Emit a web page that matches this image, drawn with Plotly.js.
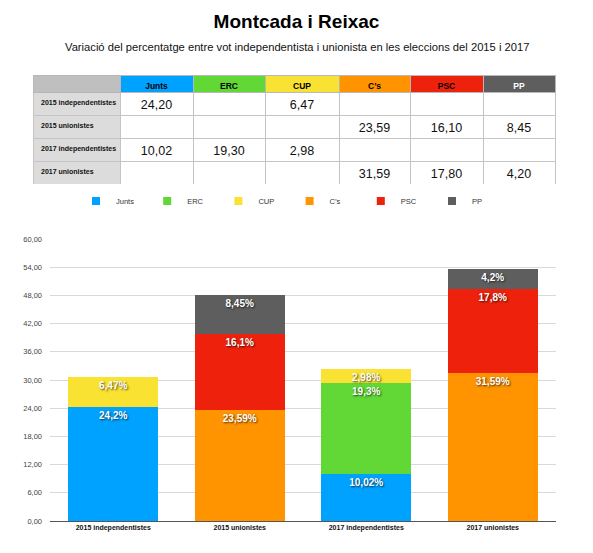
<!DOCTYPE html>
<html>
<head>
<meta charset="utf-8">
<script src="https://cdn.plot.ly/plotly-3.0.1.min.js"></script>
<style>html,body{margin:0;padding:0;background:#fff;}#chart{width:593px;height:553px;}</style>
</head>
<body>
<div id="chart"></div>
<script>
// ---- data ----
var categories = ['2015 independentistes', '2015 unionistes', '2017 independentistes', '2017 unionistes'];
var parties = ['Junts', 'ERC', 'CUP', "C's", 'PSC', 'PP'];
var junts = [24.20, null, 10.02, null];
var erc   = [null, null, 19.30, null];
var cup   = [6.47, null, 2.98, null];
var cs    = [null, 23.59, null, 31.59];
var psc   = [null, 16.10, null, 17.80];
var pp    = [null, 8.45, null, 4.20];
var yTicks = [0, 6, 12, 18, 24, 30, 36, 42, 48, 54, 60];
var partyColors = ['#00a2ff', '#61d836', '#fae232', '#ff9300', '#ee220c', '#5e5e5e'];

var series = [junts, erc, cup, cs, psc, pp];
var FONT = 'Liberation Sans, Arial, Helvetica, sans-serif';

function fmtTable(v) { return v == null ? '' : v.toFixed(2).replace('.', ','); }
function fmtBar(v) { return v == null ? '' : String(v).replace('.', ',') + '%'; }
function nb(s) { return s.replace(/ /g, '\u00a0'); }

var traces = [];

// table
var headerVals = [''].concat(parties.map(function (p) { return p.replace("'", '\u2019'); }));
var cellCols = [categories.map(nb)];
series.forEach(function (s) { cellCols.push(s.map(fmtTable)); });
traces.push({
  type: 'table',
  domain: { x: [33 / 593, 555 / 593], y: [1 - 184 / 553, 1 - 75 / 553] },
  columnwidth: [87, 73, 72, 74, 71, 73, 72],
  header: {
    values: headerVals,
    height: 17,
    align: 'center',
    fill: { color: ['#bfbfbf'].concat(partyColors) },
    line: { color: '#b8b8b8', width: 1 },
    font: { family: FONT, size: 8.5, weight: 'bold', color: ['#000', '#000', '#000', '#000', '#000', '#000', '#fff'] }
  },
  cells: {
    values: cellCols,
    height: 23,
    align: ['left', 'center', 'center', 'center', 'center', 'center', 'center'],
    fill: { color: ['#dcdcdc', '#fff', '#fff', '#fff', '#fff', '#fff', '#fff'] },
    line: { color: '#c4c4c4', width: 1 },
    font: {
      family: FONT,
      size: [7, 12.5, 12.5, 12.5, 12.5, 12.5, 12.5],
      weight: ['bold', 'normal', 'normal', 'normal', 'normal', 'normal', 'normal'],
      color: '#111'
    }
  }
});

// bars
series.forEach(function (s, i) {
  traces.push({
    type: 'bar',
    name: parties[i],
    x: categories,
    y: s,
    showlegend: false,
    marker: { color: partyColors[i], line: { width: 0 } },
    text: s.map(fmtBar),
    textposition: 'inside',
    insidetextanchor: 'end',
    textangle: 0,
    constraintext: 'none',
    textfont: { family: FONT, size: 10, color: '#fff', weight: 'bold', shadow: '1px 1px 2px rgba(0,0,0,0.7)' },
    hoverinfo: 'skip'
  });
});

// legend entries (small square swatches)
parties.forEach(function (p, i) {
  traces.push({
    type: 'scatter',
    mode: 'markers',
    name: p.replace("'", '\u2019'),
    x: [null],
    y: [null],
    marker: { symbol: 'square', size: 8, color: partyColors[i] },
    showlegend: true,
    hoverinfo: 'skip'
  });
});

var layout = {
  width: 593,
  height: 553,
  margin: { l: 0, r: 0, t: 0, b: 0 },
  paper_bgcolor: '#fff',
  plot_bgcolor: '#fff',
  separators: ',.',
  font: { family: FONT, color: '#222' },
  barmode: 'stack',
  bargap: 0.29,
  title: {
    text: '<b>Montcada i Reixac</b>',
    x: 0.5, xanchor: 'center',
    y: 1 - 21 / 553, yanchor: 'middle', yref: 'container',
    font: { family: FONT, size: 19, color: '#000' }
  },
  annotations: [{
    text: 'Variació del percentatge entre vot independentista i unionista en les eleccions del 2015 i 2017',
    xref: 'paper', yref: 'paper',
    x: 0.5, y: 1 - 47 / 553, xanchor: 'center', yanchor: 'middle',
    showarrow: false,
    font: { family: FONT, size: 11.2, color: '#111' }
  }],
  showlegend: true,
  legend: {
    orientation: 'h',
    x: 76 / 593, xanchor: 'left',
    y: 1 - 201 / 553, yanchor: 'middle',
    entrywidth: 26.2, entrywidthmode: 'pixels',
    itemwidth: 30,
    traceorder: 'normal',
    font: { family: FONT, size: 7.5, color: '#333' },
    bgcolor: 'rgba(0,0,0,0)'
  },
  xaxis: {
    domain: [50 / 593, 556 / 593],
    anchor: 'y',
    type: 'category',
    categoryarray: categories,
    showgrid: false,
    showline: true,
    linecolor: '#555',
    linewidth: 1,
    ticks: '',
    tickfont: { family: FONT, size: 7, color: '#111', weight: 'bold' },
    fixedrange: true
  },
  yaxis: {
    domain: [1 - 521 / 553, 1 - 239 / 553],
    anchor: 'x',
    range: [0, 60],
    tickvals: yTicks,
    tickformat: '.2f',
    showgrid: true,
    gridcolor: '#d9d9d9',
    gridwidth: 1,
    zeroline: false,
    showline: false,
    ticks: '',
    ticklabelstandoff: 7,
    tickfont: { family: FONT, size: 7.5, color: '#444' },
    fixedrange: true
  }
};

Plotly.newPlot('chart', traces, layout, { displayModeBar: false, staticPlot: true });
</script>
</body>
</html>
